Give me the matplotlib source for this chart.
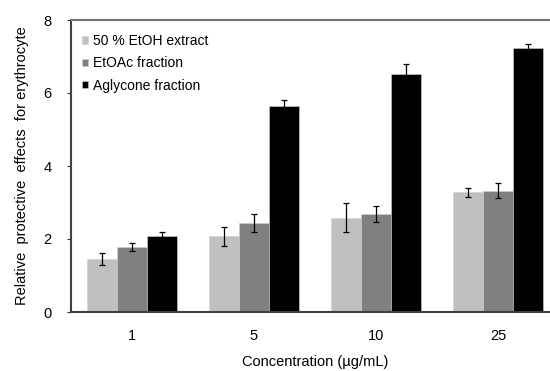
import matplotlib.pyplot as plt
import numpy as np

plt.rcParams['font.family'] = ['Liberation Sans', 'DejaVu Sans']

concentrations = ['1', '5', '10', '25']
series_names = ['50 % EtOH extract', 'EtOAc fraction', 'Aglycone fraction']
etoh_vals = [1.45, 2.08, 2.58, 3.28]
etoh_err = [0.17, 0.26, 0.40, 0.13]
etoac_vals = [1.77, 2.43, 2.68, 3.32]
etoac_err = [0.11, 0.25, 0.22, 0.21]
aglycone_vals = [2.09, 5.64, 6.52, 7.24]
aglycone_err = [0.09, 0.18, 0.27, 0.09]

colors = ['#c0c0c0', '#808080', '#000000']

fig = plt.figure(figsize=(5.5, 3.71), dpi=100)
ax = fig.add_axes([71 / 550, 59 / 371, 488 / 550, 292 / 371])

x = np.arange(len(concentrations))
w = 0.246
values = [etoh_vals, etoac_vals, aglycone_vals]
errors = [etoh_err, etoac_err, aglycone_err]
for i, (vals, errs) in enumerate(zip(values, errors)):
    ax.bar(x + (i - 1) * w, vals, w, color=colors[i], edgecolor='#d0d0d0',
           linewidth=0.4, label=series_names[i], zorder=2)
    ax.errorbar(x + (i - 1) * w, vals, yerr=errs, fmt='none', ecolor='black',
                elinewidth=0.9, capsize=2.5, capthick=0.9, zorder=3)

ax.set_xlim(-0.5, 3.5)
ax.set_ylim(0, 8)
ax.set_yticks([0, 2, 4, 6, 8])
ax.set_xticks(x)
ax.set_xticklabels(concentrations)
ax.tick_params(axis='x', length=0, labelsize=10.5, pad=12)
ax.tick_params(axis='y', length=3, width=0.8, labelsize=10.5, colors='#303030', pad=11)
ax.tick_params(axis='y', labelcolor='black')

for s in ['left', 'bottom']:
    ax.spines[s].set_color('#404040')
    ax.spines[s].set_linewidth(1.5)
ax.spines['top'].set_color('#707070')
ax.spines['top'].set_linewidth(1.5)
ax.spines['right'].set_visible(False)

ax.set_xlabel('Concentration (µg/mL)', fontsize=10.5, labelpad=9)
ax.set_ylabel('Relative  protective  effects  for erythrocyte', fontsize=10.5, labelpad=10)

ax.legend(loc='upper left', frameon=False, fontsize=10, handlelength=0.45,
          handleheight=0.45, handletextpad=0.3, labelspacing=0.6,
          borderaxespad=0.4, bbox_to_anchor=(0.0, 0.99))

fig.savefig('out.png', dpi=100)
